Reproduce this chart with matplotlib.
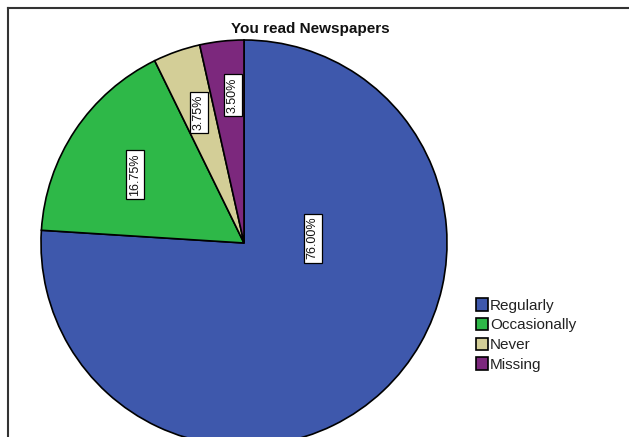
import matplotlib
matplotlib.use("Agg")
import matplotlib.pyplot as plt
from matplotlib.lines import Line2D
import numpy as np

plt.rcParams['font.family'] = ['Liberation Sans', 'DejaVu Sans']

title = "You read Newspapers"
categories = ["Regularly", "Occasionally", "Never", "Missing"]
percents = [76.00, 16.75, 3.75, 3.50]
colors = ["#3E58AC", "#2EB848", "#D3CE97", "#7C287D"]

W, H = 629, 437
fig = plt.figure(figsize=(W / 100, H / 100), dpi=100)
ax = fig.add_axes([0, 0, 1, 1])

cx, cy, R = 244, H - 243, 203
wedges, _ = ax.pie(percents, colors=colors, startangle=90, counterclock=False,
                   center=(cx, cy), radius=R,
                   wedgeprops=dict(edgecolor="black", linewidth=1.2))
ax.set_aspect('auto')
ax.set_xlim(0, W)
ax.set_ylim(0, H)
ax.axis('off')

# label placement (radial fraction, angle in degrees) - styling only
label_r = [0.34, 0.635, 0.68, 0.73]
label_ang = [4.1, 148.0, 109.1, 94.3]
for p, r, a in zip(percents, label_r, label_ang):
    x = cx + r * R * np.cos(np.radians(a))
    y = cy + r * R * np.sin(np.radians(a))
    ax.text(x, y, f"{p:.2f}%", rotation=90, ha='center', va='center',
            fontsize=9, color='#111111',
            bbox=dict(boxstyle='square,pad=0.25', facecolor='white',
                      edgecolor='black', linewidth=0.9))

ax.text(310, H - 29, title, ha='center', va='center', fontsize=11,
        fontweight='bold', color='#111111')

# frame lines (top and left)
fig.add_artist(Line2D([8 / W, 1], [1 - 8 / H, 1 - 8 / H], transform=fig.transFigure,
                      color='#333333', linewidth=1.5))
fig.add_artist(Line2D([8 / W, 8 / W], [0, 1 - 8 / H], transform=fig.transFigure,
                      color='#333333', linewidth=1.5))

leg = ax.legend(wedges, categories, loc='upper left',
                bbox_to_anchor=(476 / W, 1 - 298 / H), bbox_transform=fig.transFigure,
                frameon=False, fontsize=11, handlelength=0.8, handleheight=0.9,
                handletextpad=0.12, labelspacing=0.34, borderpad=0, borderaxespad=0)
for t in leg.get_texts():
    t.set_color('#222222')

fig.savefig("out.png", dpi=100)
